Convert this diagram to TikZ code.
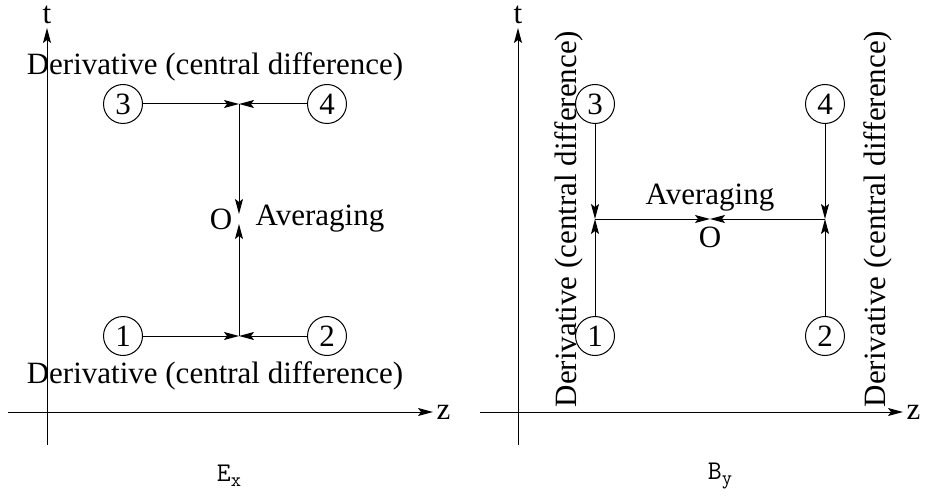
\documentclass[tikz,border=0pt]{standalone}
\usepackage{fontspec}
\setmainfont{Liberation Serif}
\usetikzlibrary{arrows.meta}

\newcommand{\fieldlbl}[2]{#1\raisebox{-5pt}{\fontsize{20}{22}\selectfont #2}}

\begin{document}
\begin{tikzpicture}[x=1pt, y=-1pt, >={Stealth[length=15pt,width=8pt,inset=3pt]},
  font=\fontsize{31}{36}\selectfont,
  line/.style={draw=black, line width=1pt},
  grid pt/.style={draw=black, line width=1pt, circle, minimum size=39pt, inner sep=0pt},
  field/.style={font=\ttfamily\fontsize{27}{30}\selectfont}]
  \useasboundingbox (0,0) rectangle (927,500);
  % left panel: E_x
  \draw[line,->] (47,445) -- (47,28) node[above] (tL) {t};
  \draw[line,->] (8,412) -- (433,412) node[right, inner sep=3pt] (zL) {z};
  \node[grid pt] (a1) at (123,336) {1};
  \node[grid pt] (a2) at (327,336) {2};
  \node[grid pt] (a3) at (123,104) {3};
  \node[grid pt] (a4) at (327,104) {4};
  \coordinate (atop) at (239,104);
  \coordinate (abot) at (239,336);
  \coordinate (aO) at (239,219);
  \draw[line,->] (a3) -- (atop);
  \draw[line,->] (a4) -- (atop);
  \draw[line,->] (a1) -- (abot);
  \draw[line,->] (a2) -- (abot);
  \draw[line,->,shorten >=5pt] (atop) -- (aO);
  \draw[line,->,shorten >=5pt] (abot) -- (aO);
  \node (aOlbl) at (221,219) {O};
  \node (aavg) at (320,219) {Averaging};
  \node (ader1) at (215,67) {Derivative (central difference)};
  \node (ader2) at (215,376) {Derivative (central difference)};
  \node[field] (Ex) at (229,476) {\fieldlbl{E}{x}};
  % right panel: B_y
  \draw[line,->] (518,445) -- (518,28) node[above] (tR) {t};
  \draw[line,->] (480,412) -- (903,412) node[right, inner sep=3pt] (zR) {z};
  \node[grid pt] (b1) at (595,336) {1};
  \node[grid pt] (b2) at (825,336) {2};
  \node[grid pt] (b3) at (595,104) {3};
  \node[grid pt] (b4) at (825,104) {4};
  \coordinate (bL) at (595,219);
  \coordinate (bR) at (825,219);
  \coordinate (bO) at (710,219);
  \draw[line,->] (b3) -- (bL);
  \draw[line,->] (b1) -- (bL);
  \draw[line,->] (b4) -- (bR);
  \draw[line,->] (b2) -- (bR);
  \draw[line,->] (bL) -- (bO);
  \draw[line,->] (bR) -- (bO);
  \node (bavg) at (710,198) {Averaging};
  \node (bOlbl) at (710,237) {O};
  \node[rotate=90] (bder1) at (569,219) {Derivative (central difference)};
  \node[rotate=90] (bder2) at (878,219) {Derivative (central difference)};
  \node[field] (By) at (720,476) {\fieldlbl{B}{y}};
\end{tikzpicture}
\end{document}
